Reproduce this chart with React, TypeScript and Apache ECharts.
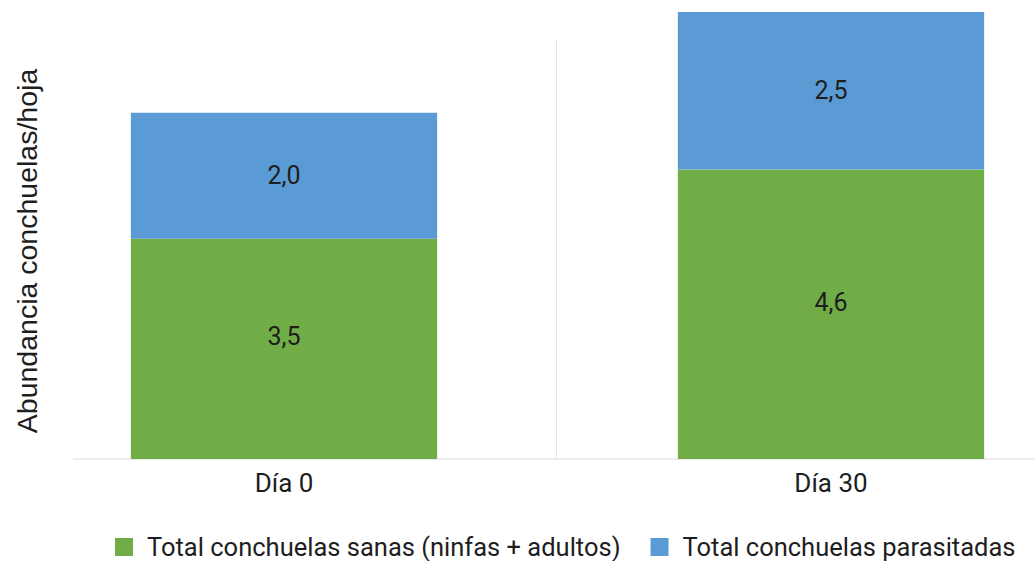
import React, { useEffect, useRef } from "react";
import * as echarts from "echarts";

const categories = ["Día 0", "Día 30"];
const sanas = [3.5, 4.6];
const parasitadas = [2.0, 2.5];
const seriesNames = ["Total conchuelas sanas (ninfas + adultos)", "Total conchuelas parasitadas"];
const yTitle = "Abundancia conchuelas/hoja";

const FONT = "Roboto, 'Noto Sans', sans-serif";
const TEXT = "#1e1e1e";

export default function App() {
  const ref = useRef<HTMLDivElement>(null);
  useEffect(() => {
    if (!ref.current) return;
    const chart = echarts.init(ref.current, undefined, { renderer: "svg" });
    const fmt = (p: any) => Number(p.value).toFixed(1).replace(".", ",");
    const valueLabel = { show: true, position: "inside", formatter: fmt, fontSize: 25, color: TEXT, fontFamily: FONT };
    chart.setOption({
      animation: false,
      textStyle: { fontFamily: FONT },
      // plot area is wider than the canvas: the right half of the second category is cut off
      grid: { left: 10.5, width: 1094, top: 12, height: 447, outerBoundsMode: "none", containLabel: false },
      legend: {
        top: 534,
        left: 115,
        padding: 0,
        itemWidth: 18,
        itemHeight: 18,
        itemGap: 30,
        icon: "rect",
        textStyle: { fontSize: 25.5, lineHeight: 22, color: TEXT, fontFamily: FONT, padding: [0, 0, 0, 9] },
        data: seriesNames,
      },
      xAxis: {
        type: "category",
        data: categories,
        axisLine: { show: false },
        axisTick: { show: false },
        axisLabel: { fontSize: 26, color: TEXT, margin: 11, fontFamily: FONT },
        splitLine: { show: false },
      },
      yAxis: {
        type: "value",
        min: 0,
        max: 7.1,
        show: false,
      },
      graphic: [
        {
          type: "line",
          shape: { x1: 73, y1: 459, x2: 1034, y2: 459 },
          style: { stroke: "#d9d9d9", lineWidth: 1 },
          silent: true,
        },
        {
          type: "line",
          shape: { x1: 556.5, y1: 40, x2: 556.5, y2: 459 },
          style: { stroke: "#e6e6e6", lineWidth: 1 },
          silent: true,
        },
        {
          type: "text",
          x: 27,
          y: 251,
          rotation: Math.PI / 2,
          style: {
            text: yTitle,
            fontSize: 28.5,
            fill: TEXT,
            fontFamily: "'Liberation Sans', Arial, sans-serif",
            align: "center",
            verticalAlign: "middle",
          },
        },
      ],
      series: [
        {
          name: seriesNames[0],
          type: "bar",
          stack: "total",
          data: sanas,
          barWidth: "56%",
          itemStyle: { color: "#70AD47" },
          label: { ...valueLabel, offset: [0, -12] },
        },
        {
          name: seriesNames[1],
          type: "bar",
          stack: "total",
          data: parasitadas,
          barWidth: "56%",
          itemStyle: { color: "#5B9BD5" },
          label: valueLabel,
        },
      ],
    });
    return () => chart.dispose();
  }, []);
  return <div ref={ref} style={{ width: 1034, height: 561, position: "absolute", left: 0, top: 0 }} />;
}
